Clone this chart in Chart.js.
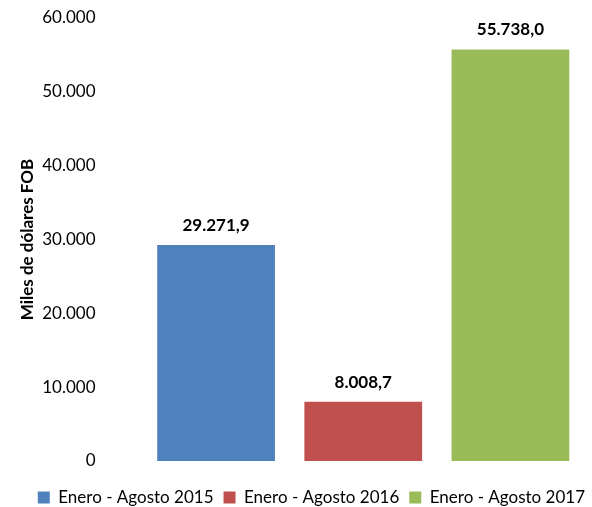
<!DOCTYPE html>
<html>
<head>
<meta charset="utf-8">
<script src="https://cdn.jsdelivr.net/npm/chart.js@4/dist/chart.umd.min.js"></script>
<style>
  html, body { margin: 0; padding: 0; background: #fff; }
  #wrap { width: 592px; height: 507px; }
</style>
</head>
<body>
<div id="wrap"><canvas id="fobChart"></canvas></div>
<script>
const periods = ['Enero - Agosto 2015', 'Enero - Agosto 2016', 'Enero - Agosto 2017'];
const fobValues = [29271.9, 8008.7, 55738.0];
const barColors = ['#4f81bd', '#c0504d', '#9bbb59'];
const yTicks = [0, 10000, 20000, 30000, 40000, 50000, 60000];

// 29271.9 -> "29.271,9"
function fmt(v, decimals) {
    const parts = v.toFixed(decimals).split('.');
    const intPart = parts[0].replace(/\B(?=(\d{3})+(?!\d))/g, '.');
    return parts[1] ? intPart + ',' + parts[1] : intPart;
}

const valueLabels = {
    id: 'valueLabels',
    afterDatasetsDraw(chart) {
        const ctx = chart.ctx;
        const meta = chart.getDatasetMeta(0);
        ctx.save();
        ctx.font = 'bold 17px Lato';
        ctx.fillStyle = '#000';
        ctx.textAlign = 'center';
        ctx.textBaseline = 'bottom';
        meta.data.forEach((bar, i) => {
            ctx.fillText(fmt(fobValues[i], 1), bar.x, bar.y - 11);
        });
        ctx.restore();
    }
};

// nudge the bottom legend right and down
const legendShift = {
    id: 'legendShift',
    afterLayout(chart) {
        const lg = chart.legend;
        if (lg) {
            lg.left += 11;
            lg.right += 11;
            lg.top += 18;
            lg.bottom += 18;
        }
    }
};

new Chart(document.getElementById('fobChart'), {
    type: 'bar',
    data: {
        labels: periods,
        datasets: [{
            data: fobValues,
            backgroundColor: barColors,
            borderWidth: 0,
            categoryPercentage: 1,
            barPercentage: 0.8
        }]
    },
    options: {
        responsive: true,
        maintainAspectRatio: false,
        animation: false,
        layout: { padding: { left: 12, right: 8, top: 18, bottom: 9 } },
        plugins: {
            tooltip: { enabled: false },
            legend: {
                position: 'bottom',
                align: 'end',
                labels: {
                    font: { family: 'Lato', size: 17 },
                    color: '#000',
                    boxWidth: 12,
                    boxHeight: 12,
                    padding: 10,
                    generateLabels: () => periods.map((p, i) => ({
                        text: p,
                        fillStyle: barColors[i],
                        strokeStyle: barColors[i],
                        lineWidth: 0,
                        index: i
                    }))
                }
            }
        },
        scales: {
            x: {
                grid: { display: false, drawTicks: false },
                border: { display: false },
                ticks: { display: false }
            },
            y: {
                min: 0,
                max: 60000,
                afterBuildTicks: s => { s.ticks = yTicks.map(v => ({ value: v })); },
                afterFit: s => {
                    s.width = 130.5;
                    s.paddingTop = 9;
                    s.paddingBottom = 9;
                },
                grid: { display: false, drawTicks: false },
                border: { display: false },
                ticks: {
                    padding: 47,
                    color: '#000',
                    font: { family: 'Lato', size: 17 },
                    callback: v => fmt(v, 0)
                },
                title: {
                    display: true,
                    text: 'Miles de dólares FOB',
                    color: '#000',
                    font: { family: 'Lato', size: 17, weight: 'bold' },
                    padding: { top: 5, bottom: 4 }
                }
            }
        }
    },
    plugins: [valueLabels, legendShift]
});
</script>
</body>
</html>
